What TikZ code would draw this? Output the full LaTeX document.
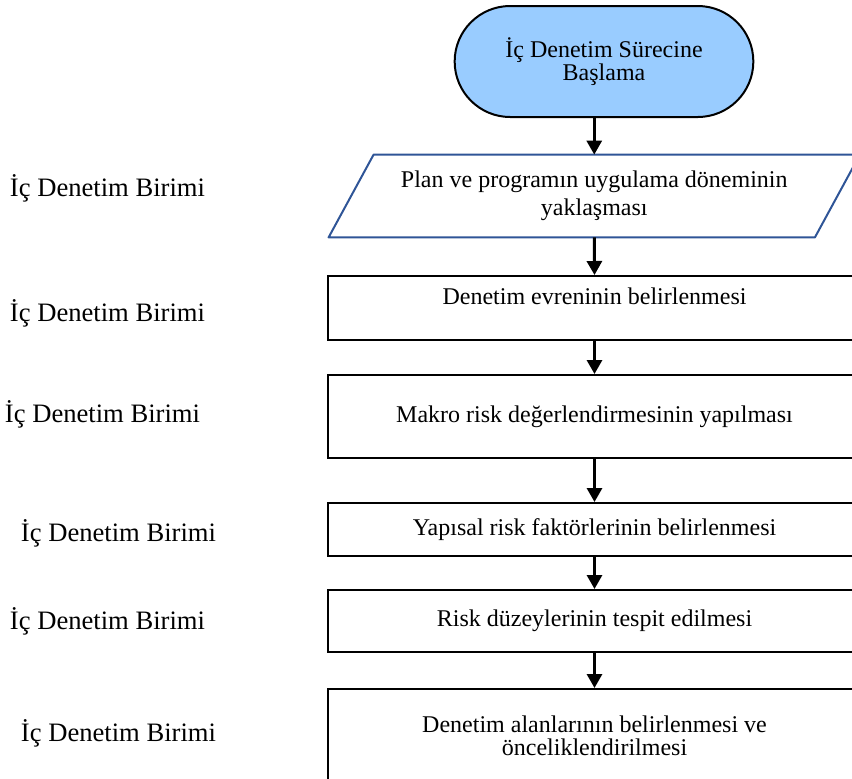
\documentclass[tikz,border=0pt]{standalone}
\usepackage{fontspec}
\setmainfont{Liberation Serif}
\usetikzlibrary{arrows.meta, shapes.misc}
\definecolor{startblue}{RGB}{153,204,255}
\definecolor{edgeblue}{RGB}{47,85,151}
\tikzset{
    stepbox/.style={draw, line width=1pt, rectangle, minimum width=266.5pt, align=center, inner sep=2pt,
      font=\fontsize{12}{11.5}\selectfont},
    startbox/.style={draw, line width=1pt, rounded rectangle, fill=startblue, minimum width=156pt,
      minimum height=55.5pt, align=center, font=\fontsize{12}{11.5}\selectfont},
    iobox/.style={rectangle, minimum width=242.75pt, minimum height=41pt, align=center, inner sep=0pt,
      font=\fontsize{12}{14}\selectfont},
    unit/.style={font=\fontsize{13.3}{16}\selectfont, inner sep=0pt},
    arr/.style={line width=1.5pt, -{Triangle[length=7pt,width=7.5pt]}},
}

\begin{document}
\begin{tikzpicture}[x=0.5pt, y=-0.5pt]
    \useasboundingbox (0,0) rectangle (852,778);
    \clip (0,0) rectangle (852,778);

    \node[startbox] (s0) at (604,61.5) {İç Denetim Sürecine\\Başlama};

    \node[iobox] (p0) at (594.25,196) {Plan ve programın uygulama döneminin\\yaklaşması};
    \draw[edgeblue, line width=1pt, line join=round]
      ([xshift=11.25pt]p0.north west) -- ([xshift=11.25pt]p0.north east)
      -- ([xshift=-11.25pt]p0.south east) -- ([xshift=-11.25pt]p0.south west) -- cycle;

    \node[stepbox, minimum height=32pt] (b1) at (594.5,308) {Denetim evreninin belirlenmesi\\\mbox{}};
    \node[stepbox, minimum height=41.5pt] (b2) at (594.5,416.5) {Makro risk değerlendirmesinin yapılması};
    \node[stepbox, minimum height=26.5pt] (b3) at (594.5,529.5) {Yapısal risk faktörlerinin belirlenmesi};
    \node[stepbox, minimum height=31pt] (b4) at (594.5,621) {Risk düzeylerinin tespit edilmesi};
    \node[stepbox, minimum height=46.5pt] (b5) at (594.5,735.5) {Denetim alanlarının belirlenmesi ve\\önceliklendirilmesi};

    \node[unit] (u1) at (107.5,188) {İç Denetim Birimi};
    \node[unit] (u2) at (107.5,313) {İç Denetim Birimi};
    \node[unit] (u3) at (102.5,414) {İç Denetim Birimi};
    \node[unit] (u4) at (118.5,533) {İç Denetim Birimi};
    \node[unit] (u5) at (107.5,621) {İç Denetim Birimi};
    \node[unit] (u6) at (118.5,733) {İç Denetim Birimi};

    \draw[arr] (s0.south -| p0.north) -- (p0.north);
    \draw[arr] (p0.south) -- (b1.north);
    \draw[arr] (b1) -- (b2);
    \draw[arr] (b2) -- (b3);
    \draw[arr] (b3) -- (b4);
    \draw[arr] (b4) -- (b5);
\end{tikzpicture}
\end{document}
